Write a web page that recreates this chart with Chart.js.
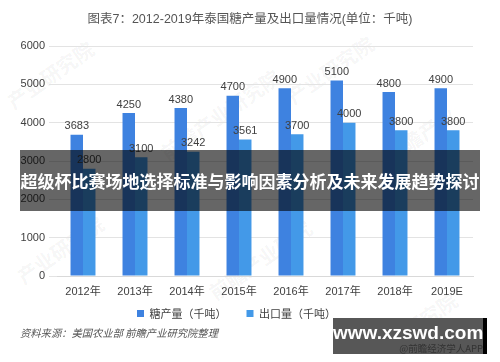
<!DOCTYPE html>
<html>
<head>
<meta charset="utf-8">
<script src="https://cdn.jsdelivr.net/npm/chart.js@4"></script>
<style>
    html, body { margin: 0; padding: 0; background: #fff; }
    #wrap { position: relative; width: 500px; height: 362px; overflow: hidden;
        font-family: 'Liberation Sans', 'Noto Sans CJK SC', sans-serif; }
    #sugarChart { position: relative; z-index: 1; }
    .wm { position: absolute; z-index: 0; color: rgba(0,0,0,0.05); font-weight: bold; font-size: 20px;
        white-space: nowrap; transform: rotate(-35deg); font-family: 'Noto Sans CJK SC', sans-serif; }
    #chartTitle { position: absolute; z-index: 2; left: 0; top: 8px; width: 500px; text-align: center;
        font-size: 12.5px; color: #555; }
    #banner { position: absolute; z-index: 2; left: 20px; top: 150px; width: 460px; height: 61px;
        background: rgba(0,0,0,0.6); color: #fff; font-weight: bold; font-size: 17px;
        line-height: 61px; text-align: center; white-space: nowrap;
        font-family: 'Noto Sans CJK SC', sans-serif; }
    #source { position: absolute; z-index: 2; left: 20px; top: 325px; font-size: 10.3px; color: #555;
        font-style: italic; font-family: 'Noto Sans CJK SC', sans-serif; }
    #mark { position: absolute; z-index: 2; left: 333px; top: 318px; width: 150px; height: 36px;
        background: #575757; border-right: 4px solid #000; }
    #mark .url { position: absolute; left: 0; top: 4px; width: 150px; text-align: center;
        color: #fff; font-weight: bold; font-size: 19px; font-family: 'Liberation Sans', sans-serif; }
    #mark .app { position: absolute; right: 0; top: 23px; font-size: 9.5px; color: #333;
        font-family: 'Noto Sans CJK SC', sans-serif; }
</style>
</head>
<body>
<div id="wrap">
    <div class="wm" style="left:0px;top:60px;">产业研究院</div>
    <div class="wm" style="left:150px;top:100px;">前瞻产业研究院</div>
    <div class="wm" style="left:280px;top:55px;">产业研究院</div>
    <div class="wm" style="left:380px;top:120px;">前瞻产业</div>
    <div class="wm" style="left:10px;top:235px;">产业研究院</div>
    <div class="wm" style="left:200px;top:245px;">前瞻产业研究</div>
    <div class="wm" style="left:400px;top:300px;">研究院</div>
    <canvas id="sugarChart" width="500" height="362"></canvas>
    <div id="chartTitle">图表7：2012-2019年泰国糖产量及出口量情况(单位：千吨)</div>
    <div id="banner">超级杯比赛场地选择标准与影响因素分析及未来发展趋势探讨</div>
    <div id="source">资料来源：美国农业部 前瞻产业研究院整理</div>
    <div id="mark"><div class="url">www.xzswd.com</div><div class="app">@前瞻经济学人APP</div></div>
</div>
<script>
const years = ['2012年', '2013年', '2014年', '2015年', '2016年', '2017年', '2018年', '2019E'];
const sugarOutput = [3683, 4250, 4380, 4700, 4900, 5100, 4800, 4900];
const exportVolume = [2800, 3100, 3242, 3561, 3700, 4000, 3800, 3800];
const yTicks = [0, 1000, 2000, 3000, 4000, 5000, 6000];

// simple value labels above each bar
const barLabels = {
    id: 'barLabels',
    afterDatasetsDraw(chart) {
        var ctx = chart.ctx;
        ctx.save();
        ctx.font = "11px 'Liberation Sans', sans-serif";
        ctx.fillStyle = '#404040';
        ctx.textAlign = 'center';
        ctx.textBaseline = 'bottom';
        chart.data.datasets.forEach((ds, di) => {
            chart.getDatasetMeta(di).data.forEach((bar, i) => {
                ctx.fillText(ds.data[i], bar.x, bar.y - 3);
            });
        });
        ctx.restore();
    }
};

// x axis is squeezed so the legend sits close; let its labels draw below the box
const xLabelRoom = {
    id: 'xLabelRoom',
    afterLayout(chart) {
        var x = chart.scales.x;
        x.bottom = x.top + 26;
        x.height = 26;
    }
};

var ctx = document.getElementById('sugarChart').getContext('2d');
new Chart(ctx, {
    type: 'bar',
    data: {
        labels: years,
        datasets: [{
            label: '糖产量（千吨）',
            data: sugarOutput,
            backgroundColor: '#3e82e0',
            categoryPercentage: 0.48,
            barPercentage: 1
        }, {
            label: '出口量（千吨）',
            data: exportVolume,
            backgroundColor: '#4399e8',
            categoryPercentage: 0.48,
            barPercentage: 1
        }]
    },
    options: {
        responsive: false,
        animation: false,
        layout: { padding: { left: 0, right: 27, top: 46, bottom: 33 } },
        scales: {
            x: {
                grid: { display: false },
                border: { color: '#d9d9d9' },
                ticks: { color: '#404040', font: { size: 11, family: "'Liberation Sans', 'Noto Sans CJK SC'" }, padding: 1 },
                afterFit: s => { s.height = 12; }
            },
            y: {
                min: 0,
                max: 6000,
                afterBuildTicks: s => { s.ticks = yTicks.map(v => ({ value: v })); },
                grid: { color: '#e3e3e3' },
                border: { display: false },
                ticks: {
                    color: '#404040',
                    font: { size: 11, family: "'Liberation Sans'" },
                    padding: 4,
                    callback: v => String(v)
                },
                afterFit: s => { s.width = 57; }
            }
        },
        plugins: {
            legend: {
                position: 'bottom',
                labels: {
                    boxWidth: 7,
                    boxHeight: 7,
                    padding: 20,
                    color: '#404040',
                    font: { size: 11, family: "'Noto Sans CJK SC'" }
                }
            },
            tooltip: { enabled: false }
        }
    },
    plugins: [barLabels, xLabelRoom]
});
</script>
</body>
</html>
